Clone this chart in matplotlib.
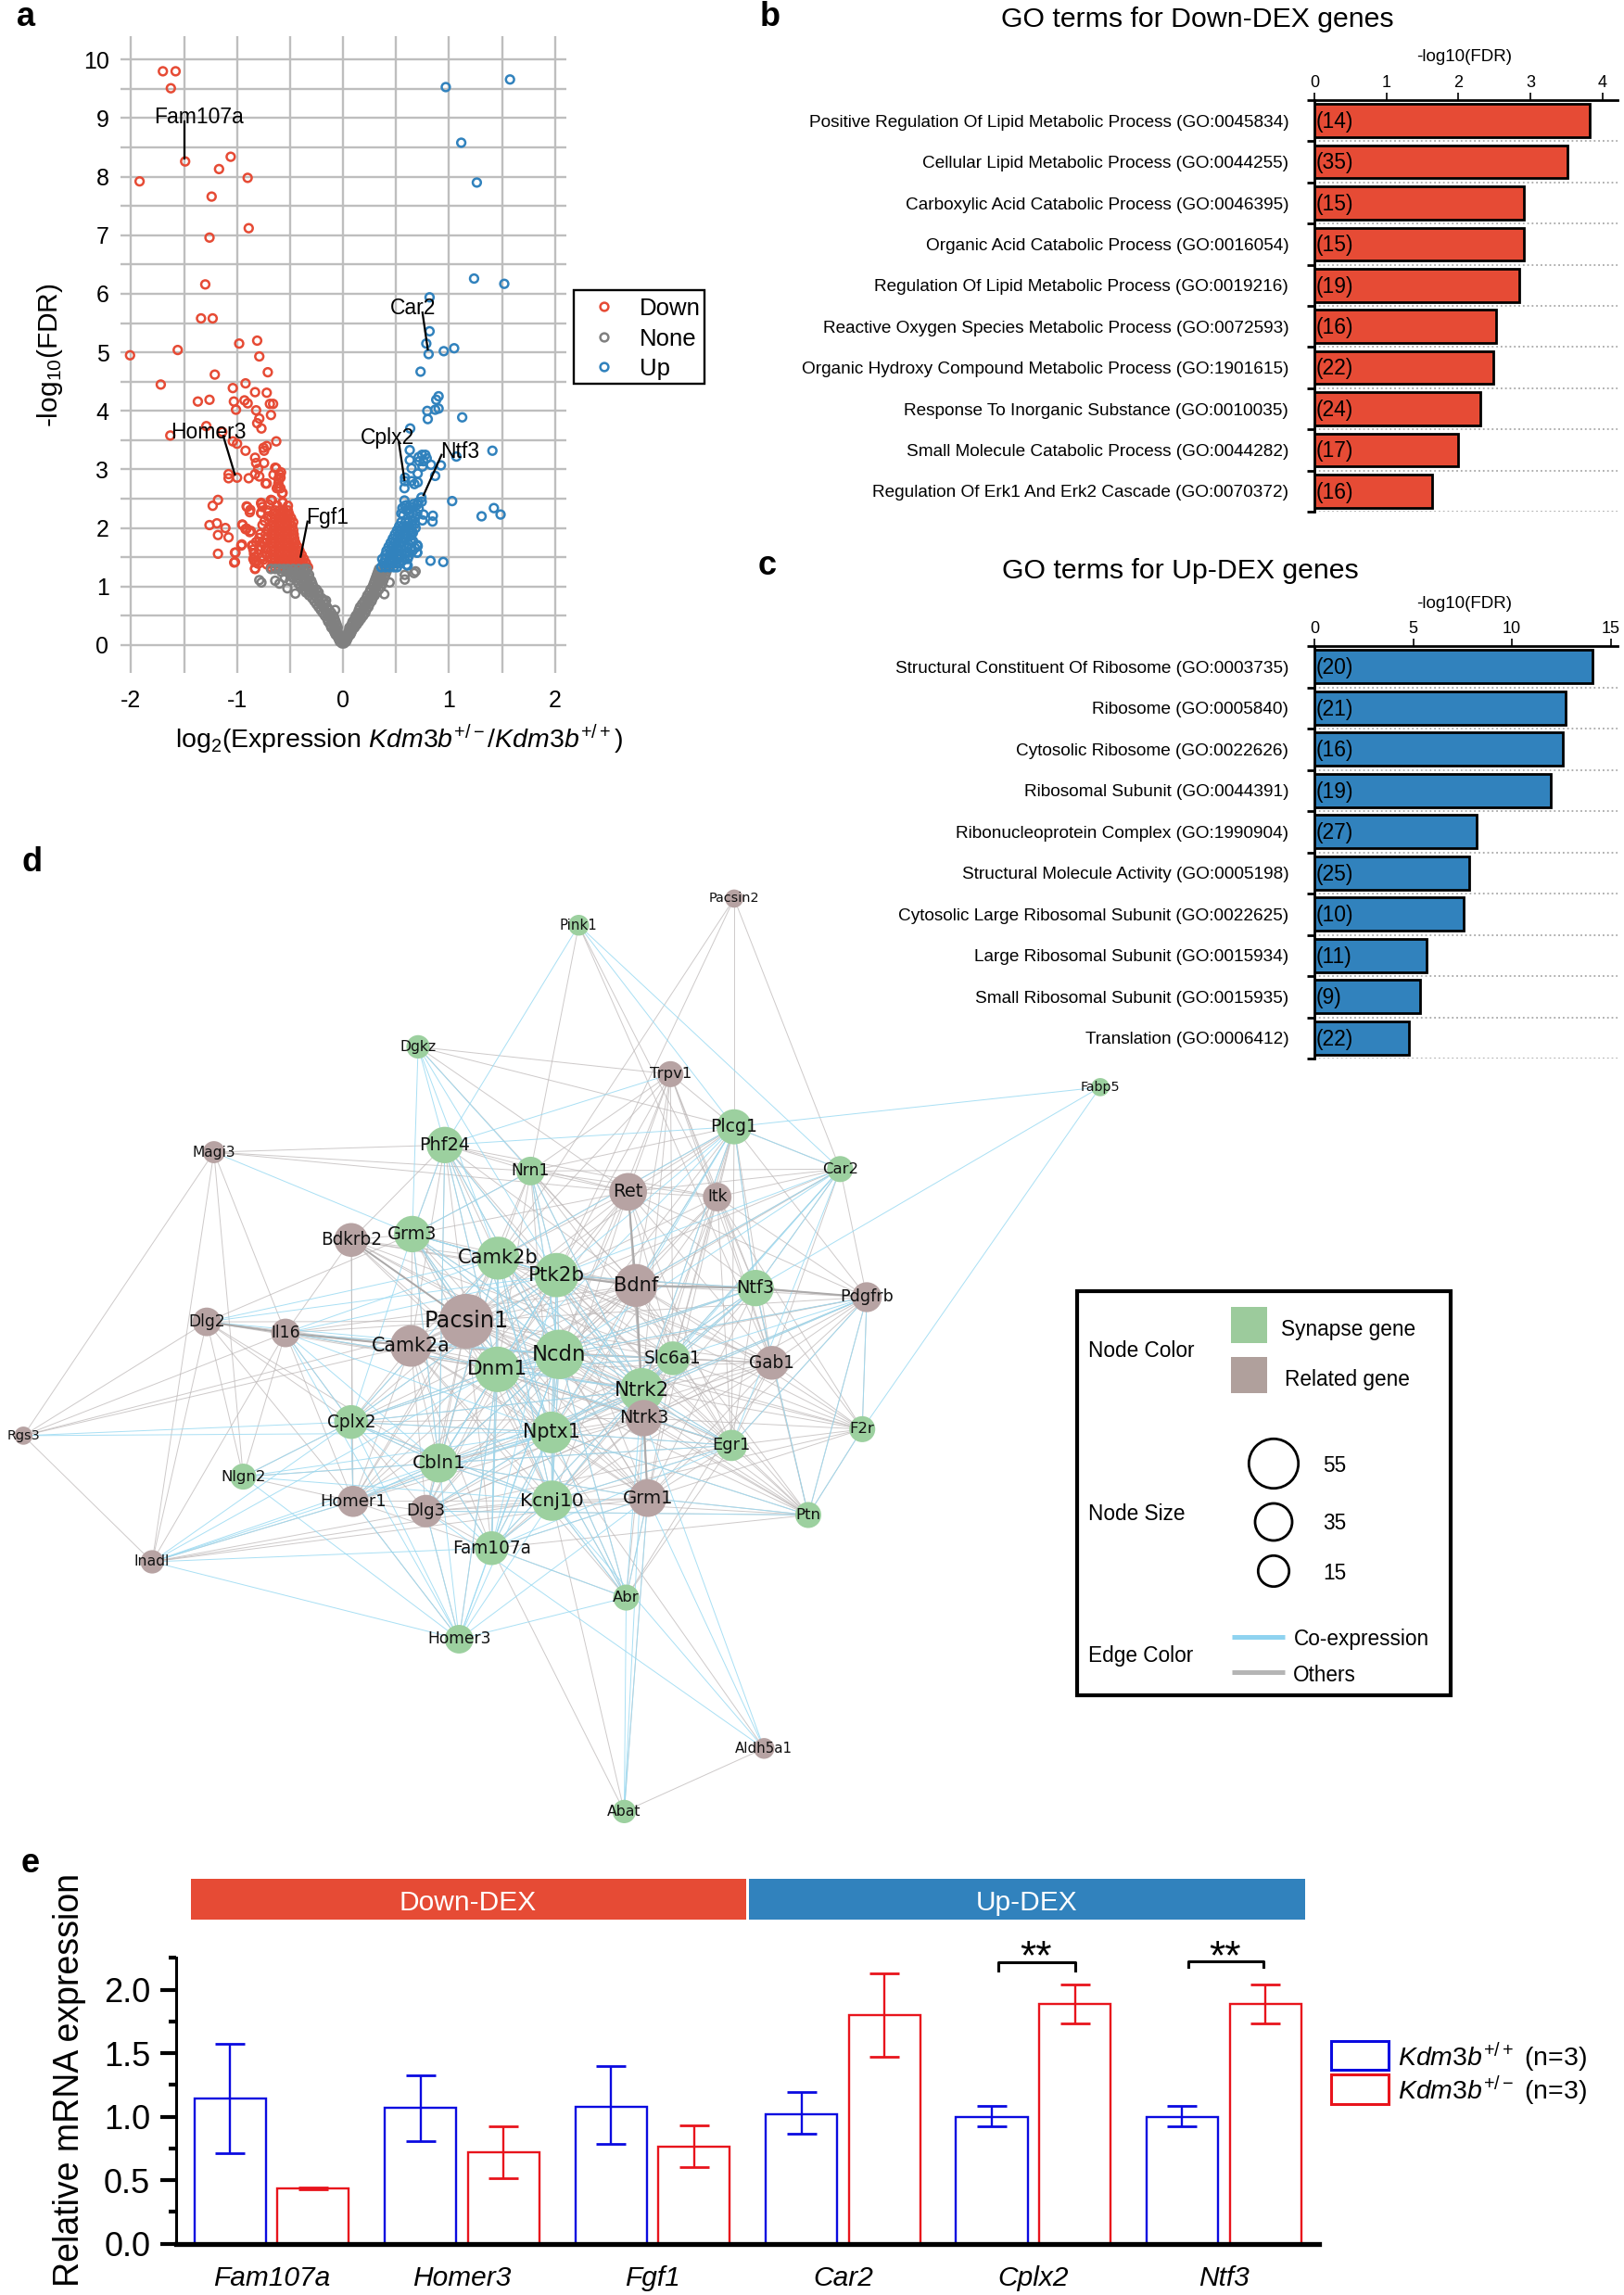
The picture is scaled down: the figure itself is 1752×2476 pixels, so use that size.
import matplotlib
matplotlib.use("Agg")
import matplotlib.pyplot as plt
from matplotlib.patches import Rectangle, Circle

plt.rcParams['font.family'] = ['Liberation Sans', 'DejaVu Sans']
plt.rcParams['mathtext.fontset'] = 'custom'
plt.rcParams['mathtext.rm'] = 'Liberation Sans'
plt.rcParams['mathtext.it'] = 'Liberation Sans:italic'
plt.rcParams['mathtext.bf'] = 'Liberation Sans:bold'
plt.rcParams['axes.unicode_minus'] = False

W, H = 1752, 2476
RED = '#E64B35'
BLUE = '#3182BD'
GREY = '#808080'

# ---- panel a: isolated points
down_x = [-1.70, -1.58, -1.625, -1.49, -1.06, -1.17, -1.92, -0.90, -1.24, -0.89, -1.26, -1.30, -1.34, -1.23,
          -2.01, -1.56, -0.98, -0.81, -0.79, -1.21, -0.71, -1.72, -0.92, -1.04, -0.83, -0.72, -1.37, -1.26,
          -1.03, -0.93, -0.90, -1.01, -0.82, -0.69, -0.66, -0.68, -0.79, -0.81, -0.77, -1.29, -1.63, -1.14,
          -1.04, -1.00, -0.63, -0.92, -0.75, -0.72, -0.745, -0.83, -0.745, -0.82, -0.64, -0.80, -0.83, -0.79,
          -0.89, -1.08, -1.08, -1.00, -0.656, -0.585, -0.59, -0.72, -0.61, -0.59, -0.625, -0.575, -1.18, -1.23,
          -0.68, -0.57, -0.91, -0.77, -0.88, -0.77, -1.26, -1.19, -1.11, -1.18, -1.08, -0.95, -0.91, -0.87,
          -0.955, -1.18, -1.02, -1.02, -0.85, -0.83, -0.835, -0.83, -0.904, -0.875, -0.773, -0.67, -0.57,
          -0.773, -0.948, -0.92, -0.88, -0.76, -0.96, -1.015, -1.027, -0.86, -0.846, -0.846, -0.83, -0.79,
          -0.76, -0.79, -0.76, -0.82, -0.73, -0.73, -0.73, -0.63, -0.60, -0.61, -0.61, -0.57,
          -0.72, -0.75, -0.72, -0.77, -0.74, -0.72, -0.78, -0.71, -0.74, -0.71, -0.80, -0.84, -0.82, -0.71,
          -0.76, -0.70, -0.62, -0.52]
down_y = [9.80, 9.80, 9.51, 8.26, 8.34, 8.13, 7.92, 7.98, 7.66, 7.12, 6.96, 6.16, 5.58, 5.58,
          4.95, 5.04, 5.15, 5.20, 4.93, 4.62, 4.66, 4.45, 4.47, 4.39, 4.32, 4.31, 4.16, 4.19,
          4.16, 4.18, 4.13, 4.02, 4.01, 4.12, 4.12, 3.93, 3.87, 3.79, 3.70, 3.74, 3.58, 3.64,
          3.48, 3.44, 3.48, 3.32, 3.37, 3.40, 3.32, 3.20, 3.11, 3.11, 3.03, 3.01, 2.92, 2.88,
          2.85, 2.92, 2.85, 2.86, 2.91, 2.95, 2.86, 2.76, 2.76, 2.68, 2.68, 2.59, 2.48, 2.38,
          2.48, 2.44, 2.37, 2.41, 2.27, 2.25, 2.05, 2.08, 2.00, 1.88, 1.84, 2.06, 1.99, 1.95,
          1.72, 1.56, 1.58, 1.42, 1.71, 1.51, 1.43, 1.30, 2.36, 2.31, 2.43, 2.47, 2.43,
          2.26, 2.05, 1.98, 1.93, 2.05, 1.70, 1.58, 1.41, 1.70, 1.63, 1.47, 1.31, 1.83,
          1.76, 1.62, 1.52, 1.41, 1.89, 1.65, 2.76, 3.02, 2.92, 2.84, 2.70, 2.60,
          1.38, 1.46, 1.54, 1.68, 1.74, 1.81, 1.90, 1.97, 2.12, 2.20, 1.39, 1.56, 1.76, 2.30,
          2.36, 2.40, 2.38, 2.38]

# the solid part of the red cloud, one row per -log10(FDR) level
down_core = {
    1.33: [-0.68, -0.64, -0.60, -0.56, -0.52, -0.48, -0.44, -0.40, -0.36, -0.33],
    1.40: [-0.66, -0.62, -0.58, -0.54, -0.50, -0.46, -0.42, -0.38, -0.35],
    1.47: [-0.68, -0.64, -0.60, -0.56, -0.52, -0.48, -0.44, -0.40, -0.37],
    1.54: [-0.66, -0.62, -0.58, -0.54, -0.50, -0.46, -0.42, -0.39],
    1.61: [-0.68, -0.64, -0.60, -0.56, -0.52, -0.48, -0.44, -0.41],
    1.68: [-0.66, -0.62, -0.58, -0.54, -0.50, -0.46, -0.43],
    1.75: [-0.68, -0.64, -0.60, -0.56, -0.52, -0.48, -0.45],
    1.82: [-0.66, -0.62, -0.58, -0.54, -0.50, -0.46],
    1.89: [-0.68, -0.64, -0.60, -0.56, -0.52, -0.48, -0.465],
    1.96: [-0.66, -0.62, -0.58, -0.54, -0.50, -0.47],
    2.03: [-0.68, -0.64, -0.60, -0.56, -0.52, -0.48],
    2.10: [-0.66, -0.62, -0.58, -0.54, -0.50, -0.47],
    2.17: [-0.68, -0.64, -0.60, -0.56, -0.52, -0.49],
    2.24: [-0.66, -0.62, -0.58, -0.54, -0.51],
    2.30: [-0.64, -0.60, -0.56, -0.52],
}

none_x = [-0.79, -0.77, -0.64, -0.60, -0.525, -0.45, -0.55, -0.16, -0.074, -0.50,
          0.583, 0.67, 0.685, 0.583, 0.44, 0.39]
none_y = [1.11, 1.07, 1.10, 1.05, 0.97, 0.88, 1.15, 0.76, 0.60, 1.10,
          1.12, 1.23, 1.26, 1.20, 1.07, 0.87]
none_core = {
    0.03: [-0.01, 0.01],
    0.06: [-0.03, -0.01, 0.01, 0.03],
    0.10: [-0.04, -0.02, 0.02, 0.04],
    0.14: [-0.05, -0.03, 0.03, 0.05],
    0.18: [-0.07, -0.04, 0.04, 0.07],
    0.22: [-0.08, -0.05, 0.05, 0.08],
    0.26: [-0.09, -0.06, 0.06, 0.09],
    0.30: [-0.11, -0.08, -0.05, 0.06, 0.09, 0.11],
    0.35: [-0.12, -0.09, -0.06, 0.08, 0.11, 0.13],
    0.40: [-0.14, -0.11, -0.07, 0.09, 0.12, 0.15],
    0.45: [-0.15, -0.11, -0.08, 0.11, 0.14, 0.17],
    0.50: [-0.17, -0.13, -0.09, 0.12, 0.16, 0.19],
    0.55: [-0.19, -0.15, -0.11, 0.14, 0.17, 0.21],
    0.60: [-0.21, -0.17, -0.13, 0.15, 0.19, 0.22],
    0.65: [-0.23, -0.19, -0.15, 0.16, 0.20, 0.24],
    0.70: [-0.25, -0.21, -0.17, 0.18, 0.22, 0.25],
    0.75: [-0.27, -0.23, -0.18, 0.20, 0.23, 0.27],
    0.80: [-0.29, -0.25, -0.20, 0.22, 0.25, 0.28],
    0.85: [-0.32, -0.27, -0.23, 0.23, 0.27, 0.30],
    0.90: [-0.35, -0.31, -0.27, -0.23, 0.25, 0.29, 0.32],
    0.95: [-0.37, -0.33, -0.29, -0.25, 0.26, 0.30, 0.34],
    1.00: [-0.40, -0.36, -0.32, -0.28, 0.28, 0.32, 0.36],
    1.05: [-0.42, -0.38, -0.33, -0.29, 0.29, 0.33, 0.37],
    1.10: [-0.44, -0.40, -0.35, -0.30, 0.30, 0.34, 0.38],
    1.15: [-0.47, -0.42, -0.37, -0.32, 0.31, 0.35, 0.39],
    1.20: [-0.50, -0.45, -0.40, -0.36, -0.32, 0.32, 0.36, 0.40],
    1.25: [-0.58, -0.53, -0.48, -0.44, -0.39, -0.35, 0.33, 0.37, 0.41],
    1.30: [-0.68, -0.64, -0.60, -0.56, -0.52, -0.47, -0.42, -0.37, -0.34, 0.34, 0.38, 0.42],
}

up_x = [1.576, 0.97, 1.116, 1.263, 1.237, 1.522, 0.817, 0.817, 0.786, 0.808, 0.951, 1.049, 0.732, 0.902, 0.88,
        0.902, 0.87, 0.795, 0.80, 1.125, 0.634, 0.63, 1.41, 1.07, 0.746, 0.714, 0.777, 0.79, 0.76, 0.72, 0.63,
        0.83, 0.75, 0.647, 0.924, 0.705, 0.87, 0.585, 0.585, 0.58, 0.647, 0.705, 0.674, 0.74, 0.58, 1.03, 0.665,
        0.60, 0.56, 0.71, 0.63, 1.424, 1.487, 1.308, 0.848, 0.76, 0.66, 0.68, 0.647, 0.705, 0.68, 0.70, 0.647,
        0.60, 0.826, 0.946, 0.61, 0.70, 0.656, 0.70, 0.60, 0.64, 0.685, 0.656, 0.75, 0.845, 0.70, 0.714, 0.583,
        0.55, 0.627, 0.743, 0.58, 0.62, 0.66, 0.56, 0.58, 0.61, 0.60, 0.62, 0.64, 0.63, 0.66, 0.65, 0.68, 0.57,
        0.60, 0.66, 0.70]
up_y = [9.66, 9.53, 8.58, 7.90, 6.26, 6.17, 5.94, 5.36, 5.15, 4.97, 5.02, 5.07, 4.67, 4.25, 4.19,
        4.04, 4.02, 4.00, 3.86, 3.89, 3.70, 3.33, 3.32, 3.22, 3.25, 3.21, 3.25, 3.19, 3.14, 3.14, 3.16,
        3.08, 3.05, 3.02, 3.07, 2.93, 2.89, 2.86, 2.80, 2.68, 2.80, 2.78, 2.75, 2.52, 2.47, 2.46, 2.41,
        2.39, 2.34, 2.44, 2.32, 2.34, 2.23, 2.20, 2.21, 2.23, 2.25, 2.07, 1.94, 1.69, 1.66, 1.58, 1.66,
        1.58, 1.44, 1.42, 1.36, 1.71, 1.61, 1.58, 1.37, 1.87, 2.00, 2.11, 2.13, 2.11, 2.24, 2.33, 2.38,
        2.25, 2.25, 2.45, 1.48, 1.52, 1.78, 1.44, 1.55, 1.47, 1.66, 1.72, 1.78, 1.96, 1.92, 2.05, 2.17, 2.22,
        2.30, 2.36, 2.40]
up_core = {
    1.33: [0.36, 0.40, 0.44, 0.48, 0.51],
    1.40: [0.38, 0.42, 0.46, 0.50, 0.53],
    1.47: [0.37, 0.40, 0.44, 0.48, 0.52],
    1.54: [0.40, 0.44, 0.48, 0.52, 0.54],
    1.61: [0.41, 0.45, 0.49, 0.53],
    1.68: [0.43, 0.47, 0.51, 0.55],
    1.75: [0.45, 0.49, 0.53, 0.56],
    1.82: [0.47, 0.51, 0.55, 0.59],
    1.89: [0.49, 0.53, 0.57, 0.60],
    1.96: [0.51, 0.55, 0.59],
    2.03: [0.53, 0.57, 0.60],
    2.10: [0.55, 0.59, 0.62],
}

# gene label, label position, then the two ends of its leader line
volcano_genes = ['Fam107a', 'Car2', 'Homer3', 'Cplx2', 'Ntf3', 'Fgf1']
volcano_text_x = [-1.36, 0.66, -1.27, 0.42, 1.107, -0.147]
volcano_text_y = [9.02, 5.75, 3.64, 3.54, 3.30, 2.18]
leader_x = [(-1.496, -1.496), (0.75, 0.80), (-1.13, -1.02), (0.527, 0.58), (0.93, 0.76), (-0.335, -0.40)]
leader_y = [(8.95, 8.31), (5.68, 5.05), (3.57, 2.91), (3.46, 2.82), (3.25, 2.56), (2.11, 1.51)]

# ---- panels b and c
down_terms = ['Positive Regulation Of Lipid Metabolic Process (GO:0045834)',
              'Cellular Lipid Metabolic Process (GO:0044255)',
              'Carboxylic Acid Catabolic Process (GO:0046395)',
              'Organic Acid Catabolic Process (GO:0016054)',
              'Regulation Of Lipid Metabolic Process (GO:0019216)',
              'Reactive Oxygen Species Metabolic Process (GO:0072593)',
              'Organic Hydroxy Compound Metabolic Process (GO:1901615)',
              'Response To Inorganic Substance (GO:0010035)',
              'Small Molecule Catabolic Process (GO:0044282)',
              'Regulation Of Erk1 And Erk2 Cascade (GO:0070372)']
down_fdr = [3.82, 3.51, 2.91, 2.91, 2.84, 2.52, 2.48, 2.30, 2.00, 1.63]
down_counts = [14, 35, 15, 15, 19, 16, 22, 24, 17, 16]

up_terms = ['Structural Constituent Of Ribosome (GO:0003735)',
            'Ribosome (GO:0005840)',
            'Cytosolic Ribosome (GO:0022626)',
            'Ribosomal Subunit (GO:0044391)',
            'Ribonucleoprotein Complex (GO:1990904)',
            'Structural Molecule Activity (GO:0005198)',
            'Cytosolic Large Ribosomal Subunit (GO:0022625)',
            'Large Ribosomal Subunit (GO:0015934)',
            'Small Ribosomal Subunit (GO:0015935)',
            'Translation (GO:0006412)']
up_fdr = [14.07, 12.74, 12.56, 11.97, 8.20, 7.86, 7.55, 5.67, 5.33, 4.79]
up_counts = [20, 21, 16, 19, 27, 25, 10, 11, 9, 22]

# ---- panel d: network layout
synapse = ['Pink1', 'Dgkz', 'Phf24', 'Nrn1', 'Plcg1', 'Car2', 'Grm3', 'Camk2b', 'Ptk2b', 'Ntf3', 'Slc6a1', 'Dnm1',
           'Ncdn', 'Ntrk2', 'Cplx2', 'Nptx1', 'Egr1', 'F2r', 'Cbln1', 'Nlgn2', 'Kcnj10', 'Ptn', 'Fam107a', 'Abr',
           'Homer3', 'Abat', 'Fabp5']
synapse_x = [890, 643, 684, 816, 1129, 1292, 634, 766, 856, 1162, 1035, 765,
             860, 987, 540, 848, 1125, 1326, 675, 374, 849, 1243, 756, 963,
             706, 960, 1692]
synapse_y = [140, 327, 478, 518, 450, 515, 615, 652, 678, 698, 806, 823,
             800, 855, 904, 920, 940, 915, 967, 988, 1025, 1047, 1098, 1174,
             1238, 1503, 389]
synapse_r = [16, 18, 28, 22, 27, 20, 28, 33, 34, 28, 26, 35,
             38, 34, 26, 32, 24, 20, 30, 20, 31, 20, 26, 20,
             22, 18, 14]

related = ['Pacsin2', 'Trpv1', 'Magi3', 'Ret', 'Itk', 'Bdkrb2', 'Bdnf', 'Pdgfrb', 'Pacsin1', 'Dlg2', 'Il16', 'Camk2a',
           'Gab1', 'Ntrk3', 'Homer1', 'Dlg3', 'Grm1', 'Inadl', 'Rgs3', 'Aldh5a1']
related_x = [1129, 1031, 329, 966, 1103, 540, 978, 1333, 717, 318, 439, 632,
             1187, 990, 543, 655, 996, 234, 36, 1175]
related_y = [99, 369, 489, 550, 558, 624, 694, 712, 749, 750, 767, 787,
             813, 898, 1026, 1041, 1021, 1119, 925, 1406]
related_r = [14, 20, 17, 29, 22, 26, 33, 23, 42, 22, 22, 32,
             26, 28, 24, 25, 29, 18, 14, 16]

other_edges = {
    'Pacsin2': 'Plcg1 Car2 Ptk2b Camk2b',
    'Pink1': 'Nrn1 Itk Gab1',
    'Dgkz': 'Trpv1 Plcg1 Ret Bdnf',
    'Trpv1': 'Plcg1 Itk Ret Bdnf Ntf3 Ptk2b Ntrk2 Slc6a1 Gab1 Camk2b Ncdn Nrn1',
    'Magi3': 'Phf24 Rgs3 Nlgn2 Il16 Inadl Nrn1 Ret',
    'Phf24': 'Nrn1 Ret Camk2b Ptk2b Pacsin1 Dnm1 Ncdn Bdnf Camk2a Bdkrb2 Grm3 Itk Ntrk2 Nptx1 Cbln1',
    'Rgs3': 'Dlg2 Il16 Camk2a Inadl Pacsin1',
    'Inadl': 'Dlg2 Il16 Homer1 Kcnj10 Dlg3 Grm1',
    'Dlg2': 'Il16 Pacsin1 Camk2a Nlgn2 Grm3 Cplx2 Homer1 Cbln1 Dnm1',
    'Il16': 'Camk2a Pacsin1 Dnm1 Ncdn Cplx2 Bdkrb2 Nlgn2 Homer1 Bdnf Ntrk2',
    'Bdkrb2': 'Grm3 Camk2b Pacsin1 Ptk2b Dnm1 Ncdn Cplx2 Homer1 Nptx1 Ntrk2 Bdnf Slc6a1',
    'Grm3': 'Camk2b Ptk2b Pacsin1 Dnm1 Camk2a Ncdn Bdnf Ret Ntrk2 Nptx1 Cbln1 Kcnj10 Grm1 Nrn1',
    'Nrn1': 'Ret Camk2b Ptk2b Bdnf Pacsin1 Dnm1 Ncdn Ntrk2 Plcg1 Itk Car2 Slc6a1 Nptx1',
    'Ret': 'Bdnf Itk Plcg1 Car2 Ptk2b Camk2b Pacsin1 Ncdn Dnm1 Ntrk2 Ntrk3 Ntf3 Gab1 Slc6a1 Grm1 Nptx1 Pdgfrb Egr1',
    'Itk': 'Plcg1 Car2 Bdnf Ntf3 Gab1 Ptk2b Ncdn Slc6a1 Ntrk2 Egr1 Pdgfrb F2r Nptx1 Grm1',
    'Plcg1': 'Car2 Ntf3 Bdnf Gab1 Ntrk2 Camk2b Ncdn Pacsin1 Pdgfrb Slc6a1 Ntrk3 Egr1',
    'Car2': 'Ntf3 Pdgfrb Bdnf Gab1 Ntrk2 Camk2a Dnm1',
    'Camk2b': 'Ptk2b Pacsin1 Camk2a Dnm1 Ncdn Ntrk2 Ntrk3 Nptx1 Cbln1 Kcnj10 Grm1 Bdnf Slc6a1 Egr1 Gab1 Cplx2 Dlg3 Homer1 Fam107a',
    'Ptk2b': 'Bdnf Pacsin1 Camk2a Dnm1 Ncdn Ntrk2 Ntrk3 Nptx1 Cbln1 Kcnj10 Grm1 Slc6a1 Ntf3 Egr1 Gab1 Pdgfrb F2r Cplx2 Dlg3 Homer1 Ptn',
    'Bdnf': 'Ntf3 Ntrk2 Ntrk3 Pacsin1 Camk2a Dnm1 Ncdn Nptx1 Cbln1 Kcnj10 Grm1 Slc6a1 Gab1 Egr1 Pdgfrb F2r Ptn Cplx2 Dlg3',
    'Ntf3': 'Pdgfrb Gab1 Ntrk2 Ntrk3 Slc6a1 Egr1 F2r Ptn Ncdn Dnm1 Grm1 Nptx1',
    'Pdgfrb': 'Gab1 F2r Ptn Egr1 Ntrk2 Ntrk3 Grm1 Pacsin1 Dnm1 Ncdn Nptx1',
    'Pacsin1': 'Camk2a Dnm1 Ncdn Ntrk2 Ntrk3 Nptx1 Cbln1 Kcnj10 Grm1 Slc6a1 Gab1 Egr1 Cplx2 Homer1 Dlg3 Fam107a Ptn F2r',
    'Camk2a': 'Dnm1 Ncdn Ntrk2 Ntrk3 Nptx1 Cbln1 Kcnj10 Grm1 Cplx2 Homer1 Dlg3 Fam107a Slc6a1 Egr1 Gab1 Abr',
    'Dnm1': 'Ncdn Ntrk2 Ntrk3 Nptx1 Cbln1 Kcnj10 Grm1 Cplx2 Homer1 Dlg3 Fam107a Slc6a1 Gab1 Egr1 Abr Homer3 Ptn',
    'Ncdn': 'Ntrk2 Ntrk3 Nptx1 Cbln1 Kcnj10 Grm1 Cplx2 Homer1 Dlg3 Fam107a Slc6a1 Gab1 Egr1 Abr F2r Ptn',
    'Slc6a1': 'Ntrk2 Ntrk3 Gab1 Egr1 F2r Ptn Grm1 Nptx1 Kcnj10 Cbln1',
    'Gab1': 'Ntrk2 Ntrk3 Egr1 F2r Ptn Grm1 Nptx1 Kcnj10 Dlg3 Abr',
    'Ntrk2': 'Ntrk3 Nptx1 Egr1 F2r Ptn Grm1 Kcnj10 Cbln1 Cplx2 Dlg3 Homer1 Fam107a',
    'Ntrk3': 'Grm1 Nptx1 Egr1 F2r Ptn Kcnj10 Cbln1 Cplx2 Dlg3 Abr Fam107a Homer1',
    'Nptx1': 'Egr1 Cbln1 Kcnj10 Grm1 Cplx2 Homer1 Dlg3 Fam107a Abr Ptn',
    'Egr1': 'F2r Ptn Grm1 Kcnj10 Cbln1 Dlg3 Abr',
    'F2r': 'Ptn Grm1 Kcnj10',
    'Ptn': 'Grm1 Kcnj10 Dlg3 Fam107a',
    'Cplx2': 'Nlgn2 Homer1 Cbln1 Dlg3 Kcnj10',
    'Cbln1': 'Homer1 Dlg3 Kcnj10 Grm1 Fam107a Nlgn2',
    'Homer1': 'Nlgn2 Dlg3 Kcnj10 Fam107a Homer3',
    'Dlg3': 'Kcnj10 Grm1 Fam107a Homer3',
    'Kcnj10': 'Grm1 Abr Fam107a Abat',
    'Fam107a': 'Abr Abat Grm1',
    'Grm1': 'Abr Abat',
    'Abat': 'Aldh5a1',
    'Aldh5a1': 'Dnm1',
}

coexp_edges = {
    'Pink1': 'Phf24 Plcg1 Car2',
    'Dgkz': 'Grm3 Phf24 Camk2b Ptk2b Nrn1',
    'Trpv1': 'Phf24',
    'Magi3': 'Grm3',
    'Fabp5': 'Plcg1 Ntf3 F2r',
    'Rgs3': 'Nptx1 Cplx2',
    'Inadl': 'Cplx2 Cbln1 Dnm1 Homer3 Homer1 Fam107a Nptx1',
    'Dlg2': 'Ptk2b Camk2b Ncdn',
    'Il16': 'Ntrk2 Ptk2b Camk2b Cplx2 Cbln1 Ncdn Homer3 Nptx1',
    'Nlgn2': 'Homer3 Cbln1 Nptx1 Kcnj10 Cplx2',
    'Homer3': 'Fam107a Dnm1 Cplx2 Cbln1 Kcnj10 Grm1 Nptx1 Abr Homer1 Dlg3 Ncdn',
    'Abat': 'Abr Grm1 Ntrk3',
    'Aldh5a1': 'Kcnj10 Grm1 Ntrk3 Dlg3',
    'F2r': 'Ptn Pdgfrb',
    'Ptn': 'Pdgfrb Ntf3 Grm1 Nptx1 Dlg3',
    'Car2': 'Ntf3 Ptk2b Bdnf Ntrk2 Ncdn Slc6a1 Egr1 Plcg1',
    'Plcg1': 'Ptk2b Camk2b Bdnf Ntf3 Phf24 Ntrk2 Dnm1 Nptx1',
    'Ntf3': 'Bdnf Ptk2b Slc6a1 Ntrk2 Dnm1 Nptx1 Ncdn',
    'Pdgfrb': 'Ntrk2 Slc6a1 Nptx1 Ncdn Egr1',
    'Camk2b': 'Ptk2b Dnm1 Ncdn Nptx1 Cbln1 Cplx2 Kcnj10 Ntrk2 Grm3 Fam107a',
    'Ptk2b': 'Dnm1 Ncdn Nptx1 Cbln1 Cplx2 Kcnj10 Ntrk2 Grm3 Fam107a Nrn1',
    'Ncdn': 'Dnm1 Nptx1 Cbln1 Cplx2 Kcnj10 Ntrk2 Fam107a Slc6a1 Egr1 Grm3 Phf24 Nrn1 Abr',
    'Dnm1': 'Nptx1 Cbln1 Cplx2 Kcnj10 Ntrk2 Fam107a Slc6a1 Egr1 Grm3 Phf24 Abr',
    'Ntrk2': 'Nptx1 Cbln1 Cplx2 Kcnj10 Fam107a Slc6a1 Egr1 Grm3 Phf24 Nrn1 Abr',
    'Nptx1': 'Cbln1 Cplx2 Kcnj10 Fam107a Slc6a1 Egr1 Grm3 Phf24 Abr',
    'Cbln1': 'Cplx2 Kcnj10 Fam107a Grm3 Phf24 Egr1',
    'Cplx2': 'Fam107a Kcnj10 Grm3 Homer1',
    'Kcnj10': 'Fam107a Abr Egr1',
    'Fam107a': 'Abr Egr1 Grm1',
    'Grm1': 'Abr Cbln1',
    'Grm3': 'Phf24 Nrn1',
    'Homer1': 'Nptx1 Cbln1',
    'Dlg3': 'Nptx1 Cbln1',
}

strong_edges = [('Ret', 'Bdnf'), ('Bdnf', 'Ntrk2'), ('Ntrk3', 'Grm1'), ('Dlg2', 'Il16'), ('Ptk2b', 'Bdnf'),
                ('Bdkrb2', 'Pacsin1'), ('Ntf3', 'Pdgfrb'), ('Il16', 'Camk2a'), ('Bdnf', 'Ntf3')]

# ---- panel e
genes = ['Fam107a', 'Homer3', 'Fgf1', 'Car2', 'Cplx2', 'Ntf3']
wt_mean = [1.14, 1.07, 1.08, 1.02, 1.00, 1.00]
wt_low = [0.71, 0.805, 0.783, 0.864, 0.922, 0.922]
wt_high = [1.572, 1.324, 1.397, 1.192, 1.083, 1.083]
het_mean = [0.435, 0.718, 0.764, 1.80, 1.886, 1.886]
het_low = [0.43, 0.513, 0.60, 1.47, 1.732, 1.732]
het_high = [0.44, 0.922, 0.929, 2.127, 2.04, 2.04]

fig = plt.figure(figsize=(W / 100, H / 100), dpi=100)


def px_axes(left, top, right, bottom):
    return fig.add_axes([left / W, 1 - bottom / H, (right - left) / W, (bottom - top) / H])


def rows(core):
    xs, ys = [], []
    for level in core:
        for x in core[level]:
            xs.append(x)
            ys.append(level)
    return xs, ys


# network goes first so that it sits under everything else
ax_d = px_axes(0, 900, 1300, 2000)
ax_d.set_xlim(0, 1300 * 1.4255)
ax_d.set_ylim(1100 * 1.4255, 0)
ax_d.axis('off')

pos = {}
for names, xs, ys in [(synapse, synapse_x, synapse_y), (related, related_x, related_y)]:
    for n, x, y in zip(names, xs, ys):
        pos[n] = (x, y)

for a in other_edges:
    for b in other_edges[a].split():
        ax_d.plot([pos[a][0], pos[b][0]], [pos[a][1], pos[b][1]], color='#BDB8B8', lw=0.7, alpha=0.75, zorder=1)
for a in coexp_edges:
    for b in coexp_edges[a].split():
        ax_d.plot([pos[a][0], pos[b][0]], [pos[a][1], pos[b][1]], color='#9ADAF2', lw=0.7, alpha=0.85, zorder=2)
for a, b in strong_edges:
    ax_d.plot([pos[a][0], pos[b][0]], [pos[a][1], pos[b][1]], color='#ABA9A9', lw=1.4, zorder=3)

for names, xs, ys, rs, col in [(synapse, synapse_x, synapse_y, synapse_r, '#9CD09F'),
                               (related, related_x, related_y, related_r, '#B7A3A3')]:
    sizes = [(2 * r / 1.4255 * 0.72) ** 2 for r in rs]
    ax_d.scatter(xs, ys, s=sizes, color=col, linewidths=0, zorder=4)
    for n, x, y, r in zip(names, xs, ys, rs):
        ax_d.text(x, y, n, ha='center', va='center', fontsize=(6 + 0.22 * r) * 1.14, family='DejaVu Sans',
                  color='#111111', zorder=5)

# panel a
ax_a = px_axes(130, 39, 611, 726)
ax_a.set_xlim(-2.1, 2.108)
ax_a.set_ylim(-0.475, 10.4)
for s in ax_a.spines.values():
    s.set_visible(False)
ax_a.set_xticks([-2, -1, 0, 1, 2])
ax_a.set_xticks([-1.5, -0.5, 0.5, 1.5], minor=True)
ax_a.set_yticks(range(11))
ax_a.set_yticks([i + 0.5 for i in range(10)], minor=True)
ax_a.grid(which='both', color='#BEBEBE', lw=1.7)
ax_a.set_axisbelow(True)
ax_a.tick_params(which='both', length=0, labelsize=18)
ax_a.tick_params(axis='x', pad=13)
ax_a.tick_params(axis='y', pad=9)

ring = dict(s=40, facecolors='none', linewidths=1.8)
cx, cy = rows(down_core)
ax_a.scatter(down_x + cx, down_y + cy, edgecolors=RED, zorder=3, **ring)
cx, cy = rows(none_core)
ax_a.scatter(none_x + cx, none_y + cy, edgecolors=GREY, zorder=4, **ring)
cx, cy = rows(up_core)
ax_a.scatter(up_x + cx, up_y + cy, edgecolors=BLUE, zorder=5, **ring)

for i, g in enumerate(volcano_genes):
    ax_a.plot(leader_x[i], leader_y[i], color='black', lw=1.6, zorder=6)
    ax_a.text(volcano_text_x[i], volcano_text_y[i], g, ha='center', va='center', fontsize=16.5, zorder=7)

ax_a.set_xlabel(r'log$_{2}$(Expression $\mathit{Kdm3b}^{+/-}$/$\mathit{Kdm3b}^{+/+}$)', fontsize=20.5)
ax_a.xaxis.set_label_coords((431 - 130) / 481, (726 - 798) / 687)
ax_a.xaxis.label.set_verticalalignment('center')
ax_a.set_ylabel(r'-log$_{10}$(FDR)', fontsize=21.5)
ax_a.yaxis.set_label_coords((54 - 130) / 481, (726 - 383) / 687)
ax_a.yaxis.label.set_verticalalignment('center')


# panels b and c
def go_panel(left, top, bottom, xmax, ticks, terms, values, counts, col, title, title_x, title_y, label_y):
    ax = px_axes(left, top, 1745, bottom)
    pos_y = range(len(terms))
    ax.barh(pos_y, values, height=0.8, color=col, edgecolor='black', linewidth=2.0, zorder=3)
    ax.set_xlim(0, xmax)
    ax.set_ylim(9.5, -0.5)
    ax.spines['right'].set_visible(False)
    ax.spines['bottom'].set_visible(False)
    ax.spines['top'].set_linewidth(2.0)
    ax.spines['left'].set_linewidth(2.0)
    ax.xaxis.tick_top()
    ax.set_xticks(ticks)
    ax.tick_params(axis='x', length=6, width=1.2, labelsize=13, pad=1)
    ax.set_yticks(list(pos_y))
    ax.set_yticklabels(terms)
    ax.tick_params(axis='y', length=0, labelsize=13.7, pad=20)
    ax.set_yticks([i + 0.5 for i in range(-1, 10)], minor=True)
    ax.tick_params(axis='y', which='minor', length=6, width=2)
    ax.grid(which='minor', axis='y', color='#A8A8A8', ls=':', lw=1.3)
    for i, c in enumerate(counts):
        ax.text(0.006 * xmax, i + 0.03, '(%d)' % c, va='center', fontsize=16.5, zorder=4)
    fig.text(title_x / W, 1 - title_y / H, title, ha='center', va='center', fontsize=21.8)
    fig.text(1580 / W, 1 - label_y / H, '-log10(FDR)', ha='center', va='center', fontsize=13.5)
    return ax


go_panel(1418, 108, 552, 327 / 77.7, [0, 1, 2, 3, 4], down_terms, down_fdr, down_counts, RED,
         'GO terms for Down-DEX genes', 1292, 21, 62)
go_panel(1418, 697, 1142, 327 / 21.3, [0, 5, 10, 15], up_terms, up_fdr, up_counts, BLUE,
         'GO terms for Up-DEX genes', 1273, 616, 651)

# panel e
ax_e = px_axes(190, 2111.7, 1423, 2420.7)
ax_e.set_xlim(-0.501, 5.5)
ax_e.set_ylim(0, 2.255)
e_blue = '#0A0AE0'
e_red = '#E8141C'
for i in range(6):
    for off, mean, lo, hi, col in [(-0.218, wt_mean[i], wt_low[i], wt_high[i], e_blue),
                                   (0.218, het_mean[i], het_low[i], het_high[i], e_red)]:
        ax_e.bar(i + off, mean, width=0.375, facecolor='white', edgecolor=col, linewidth=1.7)
        ax_e.errorbar(i + off, mean, yerr=[[mean - lo], [hi - mean]], color=col, lw=1.7, capsize=11.5, capthick=2.0)
for s in ['top', 'right']:
    ax_e.spines[s].set_visible(False)
ax_e.spines['left'].set_linewidth(2.2)
ax_e.spines['bottom'].set_linewidth(3.8)
ax_e.spines['bottom'].set_zorder(6)
ax_e.set_xticks(range(6))
ax_e.set_xticklabels(genes, style='italic')
ax_e.tick_params(axis='x', length=0, labelsize=21.5, pad=17)
ax_e.set_yticks([0, 0.5, 1.0, 1.5, 2.0])
ax_e.set_yticklabels(['0.0', '0.5', '1.0', '1.5', '2.0'])
ax_e.set_yticks([0.25, 0.75, 1.25, 1.75, 2.25], minor=True)
ax_e.tick_params(axis='y', length=12, width=3, labelsize=26, pad=8)
ax_e.tick_params(axis='y', which='minor', length=6, width=3)
ax_e.set_ylabel('Relative mRNA expression', fontsize=27)
ax_e.yaxis.set_label_coords((75 - 190) / 1233, 0.572)
ax_e.yaxis.label.set_verticalalignment('center')

# everything placed in figure pixels: panel letters, header bars, legends
ov = fig.add_axes([0, 0, 1, 1], facecolor='none')
ov.set_xlim(0, W)
ov.set_ylim(H, 0)
ov.axis('off')

for letter, x, y in [('a', 28, 18), ('b', 831, 18), ('c', 828, 611), ('d', 35, 930), ('e', 33, 2010)]:
    ov.text(x, y, letter, fontsize=26, fontweight='bold', ha='center', va='center')

# panel a legend
ov.add_patch(Rectangle((619, 313), 141, 101, fill=False, ec='black', lw=1.7))
for y, col, lab in [(331, RED, 'Down'), (364, GREY, 'None'), (396, BLUE, 'Up')]:
    ov.scatter([652], [y], edgecolors=col, **ring)
    ov.text(690, y + 2, lab, fontsize=18.5, va='center')

# panel d legend
ov.add_patch(Rectangle((1162, 1393), 403, 436, fill=False, ec='black', lw=3))
for lab, y in [('Node Color', 1457), ('Node Size', 1634), ('Edge Color', 1787)]:
    ov.text(1174, y, lab, fontsize=16.3, va='center')
ov.add_patch(Rectangle((1328, 1410), 39, 39, fc='#9CCB9C', ec='none'))
ov.add_patch(Rectangle((1328, 1464), 39, 39, fc='#B0A09C', ec='none'))
ov.text(1382, 1434, 'Synapse gene', fontsize=16.3, va='center')
ov.text(1386, 1488, 'Related gene', fontsize=16.3, va='center')
for y, r, lab, ly in [(1579, 26.7, '55', 1582), (1642, 20, '35', 1644), (1695, 16.7, '15', 1697)]:
    ov.add_patch(Circle((1374, y), r, fill=False, ec='black', lw=2))
    ov.text(1427, ly, lab, fontsize=16.3, va='center')
ov.plot([1329, 1386], [1766, 1766], color='#8FD3F0', lw=3.6, solid_capstyle='butt')
ov.plot([1329, 1386], [1804, 1804], color='#B5B5B5', lw=3.6, solid_capstyle='butt')
ov.text(1396, 1769, 'Co-expression', fontsize=16.3, va='center')
ov.text(1395, 1807, 'Others', fontsize=16.3, va='center')

# panel e header, brackets and legend
ov.add_patch(Rectangle((205.6, 2027), 598.9, 43.7, fc=RED, ec='none'))
ov.add_patch(Rectangle((808, 2027), 600, 43.7, fc=BLUE, ec='none'))
ov.text(505, 2053, 'Down-DEX', color='white', fontsize=21.5, ha='center', va='center')
ov.text(1108, 2053, 'Up-DEX', color='white', fontsize=21.5, ha='center', va='center')
for x0, x1, top, low, sx in [(1077, 1160, 2117, 2126, 1118), (1281.6, 1363, 2115.7, 2121.7, 1322)]:
    ov.plot([x0, x0, x1, x1], [low, top, top, low], color='black', lw=2.2)
    ov.text(sx, 2113, '**', fontsize=32, ha='center', va='center')
ov.add_patch(Rectangle((1436, 2202), 62, 31, fill=False, ec=e_blue, lw=2.2))
ov.add_patch(Rectangle((1436, 2238), 62, 32, fill=False, ec=e_red, lw=2.2))
ov.text(1508, 2220, r'$\mathit{Kdm3b}^{+/+}$ (n=3)', fontsize=20.5, va='center')
ov.text(1508, 2256, r'$\mathit{Kdm3b}^{+/-}$ (n=3)', fontsize=20.5, va='center')

fig.savefig('out.png', dpi=100)
